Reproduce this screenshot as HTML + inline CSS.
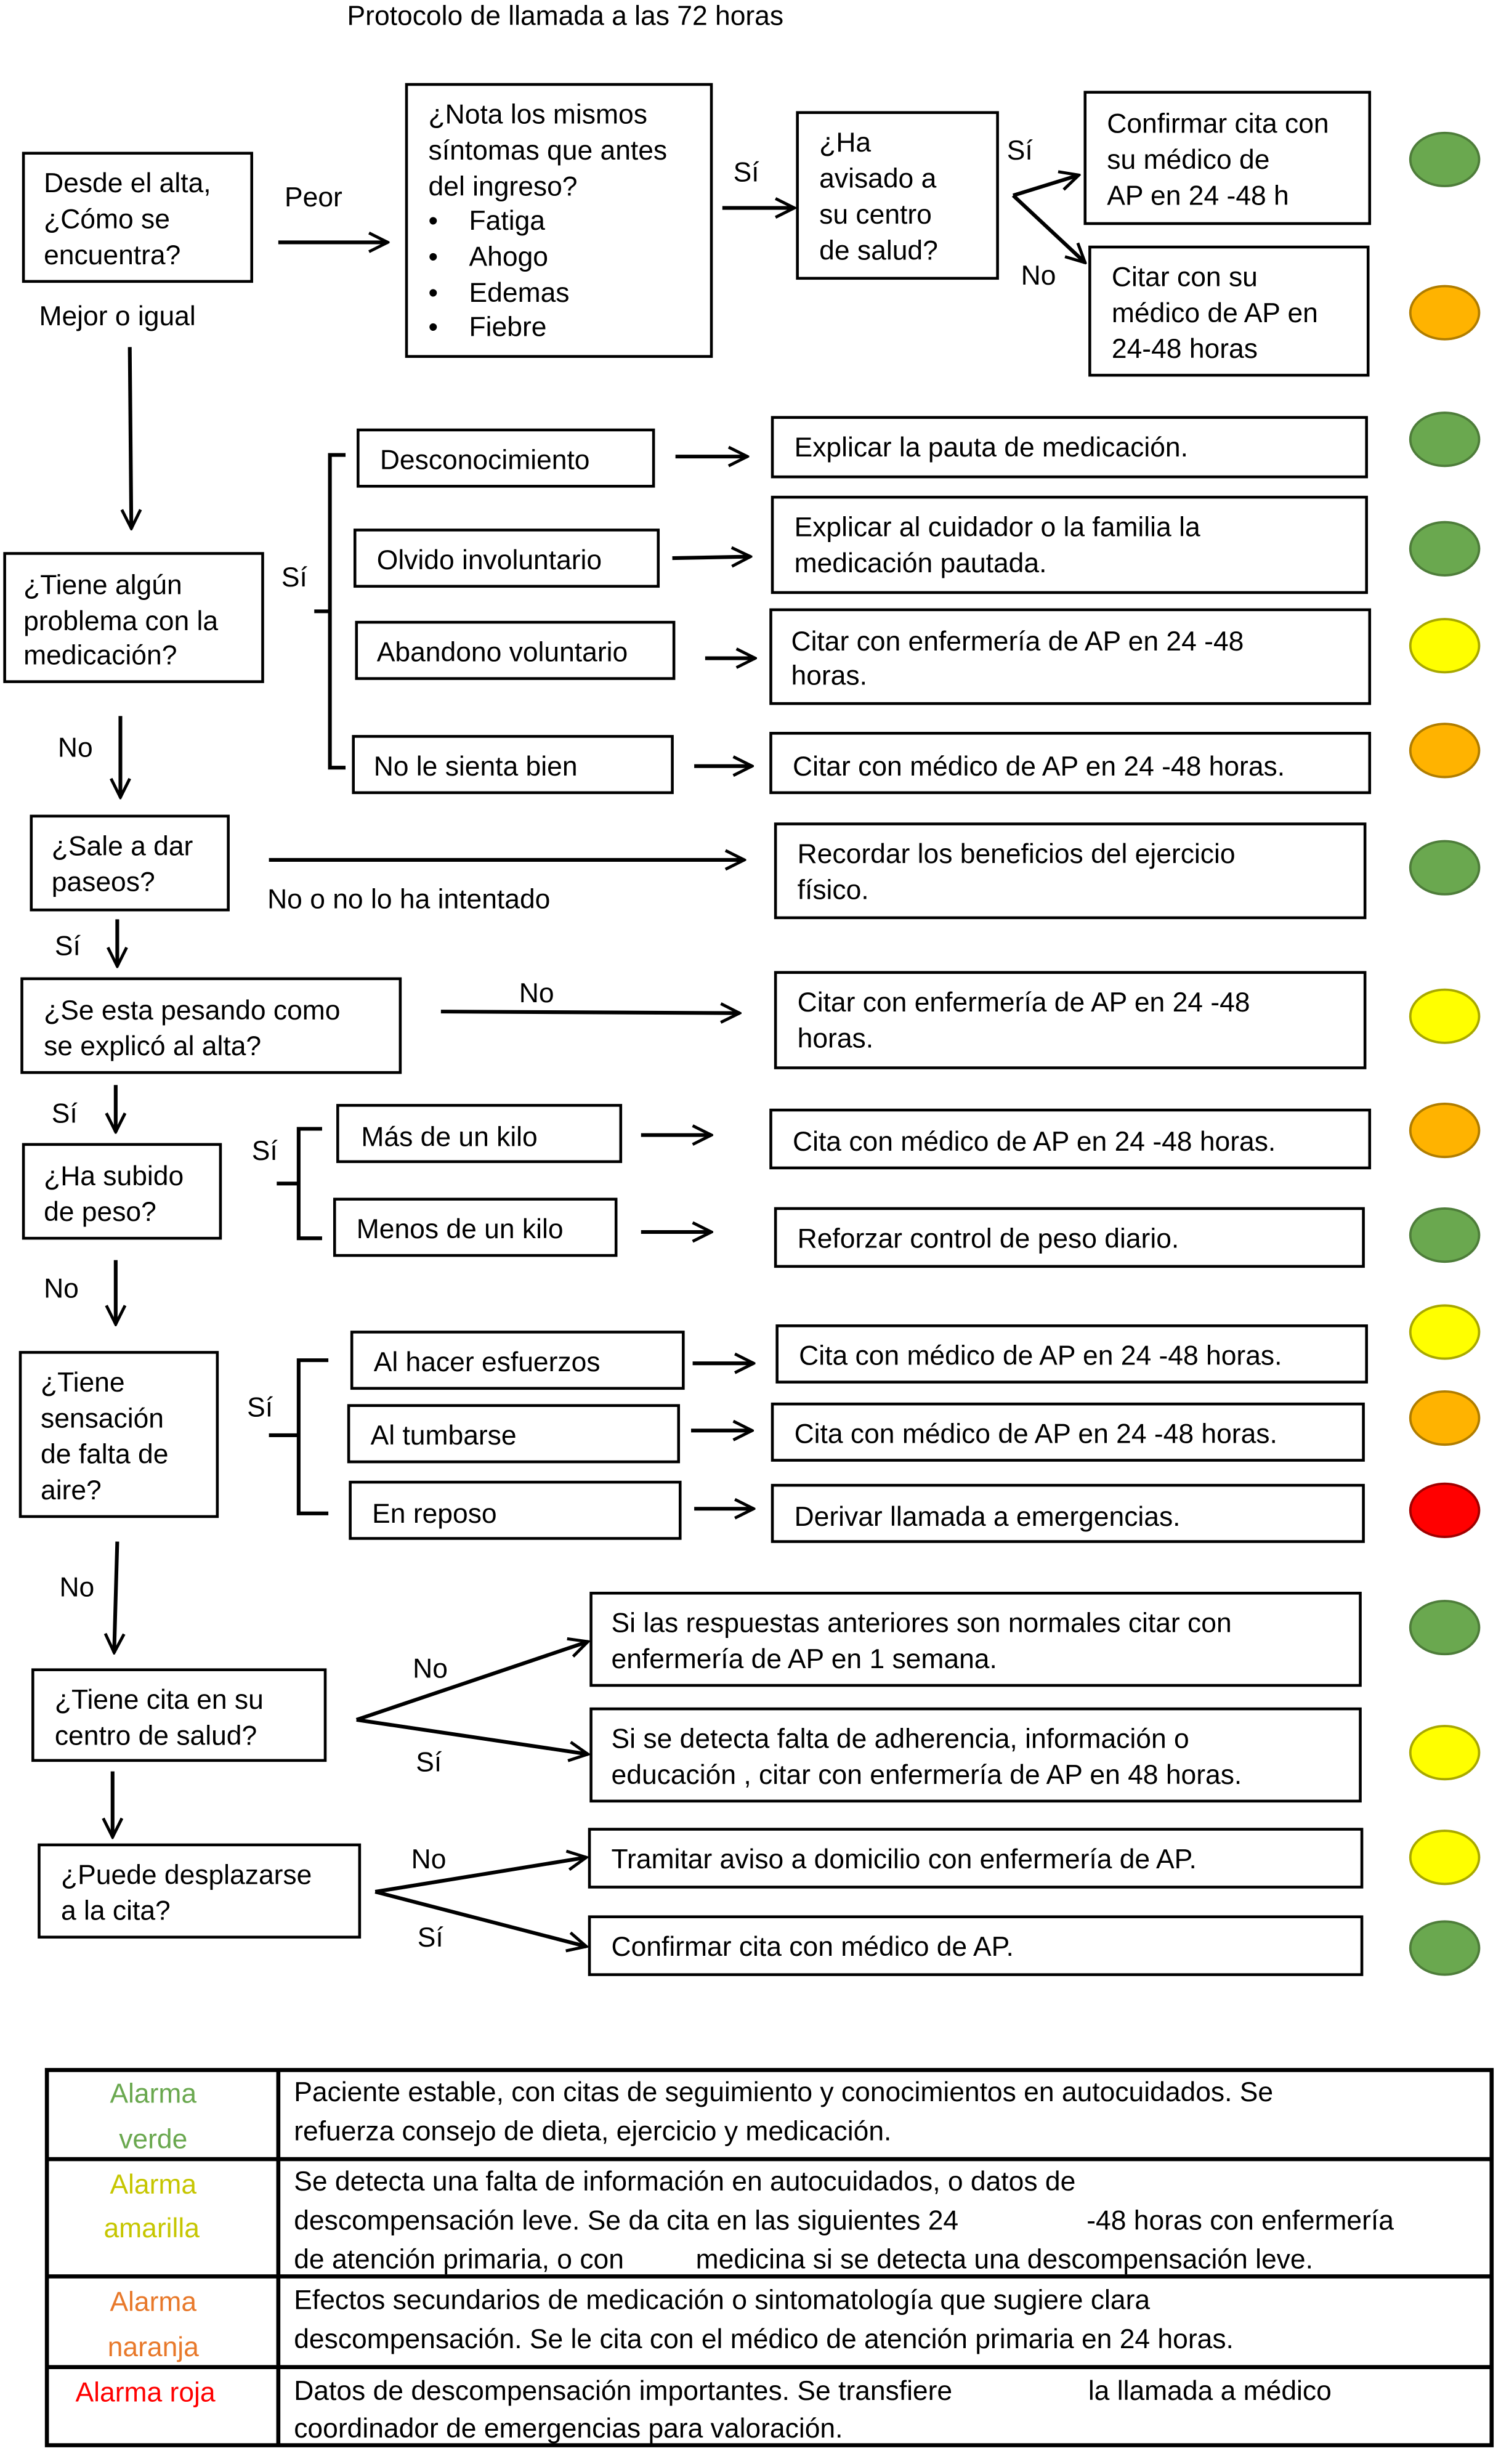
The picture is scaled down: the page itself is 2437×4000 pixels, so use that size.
<!DOCTYPE html>
<html><head><meta charset="utf-8"><style>
html,body{margin:0;padding:0;background:#fff;}
svg{display:block;}
text{font-family:"Liberation Sans",Arial,sans-serif;font-size:17.5px;fill:#000;}
.b{fill:none;stroke:#000;stroke-width:1.8;}
.a{fill:none;stroke:#000;stroke-width:2.4;}
</style></head><body>
<svg width="2437" height="4000" viewBox="0 0 960 1576" preserveAspectRatio="none" xmlns="http://www.w3.org/2000/svg">
<defs><marker id="m" viewBox="0 0 12 12" refX="11" refY="6" markerWidth="6" markerHeight="6" orient="auto" markerUnits="strokeWidth"><polyline points="1,1 11,6 1,11" fill="none" stroke="#000" stroke-width="1.6"/></marker></defs>
<rect width="960" height="1576" fill="#fff"/>
<text x="222" y="16">Protocolo de llamada a las 72 horas</text>

<rect class="b" x="15" y="98" width="146" height="82"/>
<text x="28" y="123">Desde el alta,</text><text x="28" y="146">¿Cómo se</text><text x="28" y="169">encuentra?</text>
<text x="182" y="132">Peor</text>
<line class="a" x1="178" y1="155" x2="248" y2="155" marker-end="url(#m)"/>
<text x="25" y="208">Mejor o igual</text>

<rect class="b" x="260" y="54" width="195" height="174"/>
<text x="274" y="79">¿Nota los mismos</text><text x="274" y="102">síntomas que antes</text><text x="274" y="125">del ingreso?</text>
<text x="274" y="147">•</text><text x="300" y="147">Fatiga</text>
<text x="274" y="170">•</text><text x="300" y="170">Ahogo</text>
<text x="274" y="193">•</text><text x="300" y="193">Edemas</text>
<text x="274" y="215">•</text><text x="300" y="215">Fiebre</text>
<text x="469" y="116">Sí</text>
<line class="a" x1="462" y1="133" x2="508" y2="133" marker-end="url(#m)"/>

<rect class="b" x="510" y="72" width="128" height="106"/>
<text x="524" y="97">¿Ha</text><text x="524" y="120">avisado a</text><text x="524" y="143">su centro</text><text x="524" y="166">de salud?</text>
<text x="644" y="102">Sí</text>
<line class="a" x1="648" y1="125" x2="690" y2="112" marker-end="url(#m)"/>
<line class="a" x1="648" y1="125" x2="694" y2="168" marker-end="url(#m)"/>
<text x="653" y="182">No</text>
<rect class="b" x="694" y="59" width="182" height="84"/>
<text x="708" y="85">Confirmar cita con</text><text x="708" y="108">su médico de</text><text x="708" y="131">AP en 24 -48 h</text>
<rect class="b" x="697" y="158" width="178" height="82"/>
<text x="711" y="183">Citar con su</text><text x="711" y="206">médico de AP en</text><text x="711" y="229">24-48 horas</text>

<line class="a" x1="83" y1="222" x2="84" y2="338" marker-end="url(#m)"/>
<rect class="b" x="3" y="354" width="165" height="82"/>
<text x="15" y="380">¿Tiene algún</text><text x="15" y="403">problema con la</text><text x="15" y="425">medicación?</text>
<text x="180" y="375">Sí</text>
<path class="a" d="M221,291 H211 V491 H221 M211,391 H201"/>
<rect class="b" x="229" y="275" width="189" height="36"/><text x="243" y="300">Desconocimiento</text>
<rect class="b" x="227" y="339" width="194" height="36"/><text x="241" y="364">Olvido involuntario</text>
<rect class="b" x="228" y="398" width="203" height="36"/><text x="241" y="423">Abandono voluntario</text>
<rect class="b" x="226" y="471" width="204" height="36"/><text x="239" y="496">No le sienta bien</text>
<line class="a" x1="432" y1="292" x2="478" y2="292" marker-end="url(#m)"/>
<line class="a" x1="430" y1="357" x2="480" y2="356" marker-end="url(#m)"/>
<line class="a" x1="451" y1="421" x2="483" y2="421" marker-end="url(#m)"/>
<line class="a" x1="444" y1="490" x2="481" y2="490" marker-end="url(#m)"/>
<rect class="b" x="494" y="267" width="380" height="38"/><text x="508" y="292">Explicar la pauta de medicación.</text>
<rect class="b" x="494" y="318" width="380" height="61"/><text x="508" y="343">Explicar al cuidador o la familia la</text><text x="508" y="366">medicación pautada.</text>
<rect class="b" x="493" y="390" width="383" height="60"/><text x="506" y="416">Citar con enfermería de AP en 24  -48</text><text x="506" y="438">horas.</text>
<rect class="b" x="493" y="469" width="383" height="38"/><text x="507" y="496">Citar con médico de AP en 24  -48 horas.</text>

<text x="37" y="484">No</text>
<line class="a" x1="77" y1="458" x2="77" y2="510" marker-end="url(#m)"/>
<rect class="b" x="20" y="522" width="126" height="60"/>
<text x="33" y="547">¿Sale a dar</text><text x="33" y="570">paseos?</text>
<line class="a" x1="172" y1="550" x2="476" y2="550" marker-end="url(#m)"/>
<text x="171" y="581">No o  no lo ha intentado</text>
<rect class="b" x="496" y="527" width="377" height="60"/><text x="510" y="552">Recordar los beneficios del ejercicio</text><text x="510" y="575">físico.</text>

<text x="35" y="611">Sí</text>
<line class="a" x1="75" y1="588" x2="75" y2="618" marker-end="url(#m)"/>
<rect class="b" x="14" y="626" width="242" height="60"/>
<text x="28" y="652">¿Se esta pesando como</text><text x="28" y="675">se explicó al alta?</text>
<text x="332" y="641">No</text>
<line class="a" x1="282" y1="647" x2="473" y2="648" marker-end="url(#m)"/>
<rect class="b" x="496" y="622" width="377" height="61"/><text x="510" y="647">Citar con enfermería de AP en 24  -48</text><text x="510" y="670">horas.</text>

<text x="33" y="718">Sí</text>
<line class="a" x1="74" y1="694" x2="74" y2="724" marker-end="url(#m)"/>
<rect class="b" x="15" y="732" width="126" height="60"/>
<text x="28" y="758">¿Ha subido</text><text x="28" y="781">de peso?</text>
<text x="161" y="742">Sí</text>
<path class="a" d="M206,722 H191 V792 H206 M191,757 H177"/>
<rect class="b" x="216" y="707" width="181" height="36"/><text x="231" y="733">Más de un kilo</text>
<rect class="b" x="214" y="767" width="180" height="36"/><text x="228" y="792">Menos de un kilo</text>
<line class="a" x1="410" y1="726" x2="455" y2="726" marker-end="url(#m)"/>
<line class="a" x1="410" y1="788" x2="455" y2="788" marker-end="url(#m)"/>
<rect class="b" x="493" y="710" width="383" height="37"/><text x="507" y="736">Cita con médico de AP en 24  -48 horas.</text>
<rect class="b" x="496" y="773" width="376" height="37"/><text x="510" y="798">Reforzar control de peso diario.</text>

<text x="28" y="830">No</text>
<line class="a" x1="74" y1="806" x2="74" y2="847" marker-end="url(#m)"/>
<rect class="b" x="13" y="865" width="126" height="105"/>
<text x="26" y="890">¿Tiene</text><text x="26" y="913">sensación</text><text x="26" y="936">de falta de</text><text x="26" y="959">aire?</text>
<text x="158" y="906">Sí</text>
<path class="a" d="M210,870 H191 V968 H210 M191,918 H172"/>
<rect class="b" x="225" y="852" width="212" height="36"/><text x="239" y="877">Al hacer esfuerzos</text>
<rect class="b" x="223" y="899" width="211" height="36"/><text x="237" y="924">Al tumbarse</text>
<rect class="b" x="224" y="948" width="211" height="36"/><text x="238" y="974">En reposo</text>
<line class="a" x1="443" y1="872" x2="482" y2="872" marker-end="url(#m)"/>
<line class="a" x1="442" y1="915" x2="481" y2="915" marker-end="url(#m)"/>
<line class="a" x1="444" y1="965" x2="482" y2="965" marker-end="url(#m)"/>
<rect class="b" x="497" y="848" width="377" height="36"/><text x="511" y="873">Cita con médico de AP en 24  -48 horas.</text>
<rect class="b" x="494" y="898" width="378" height="36"/><text x="508" y="923">Cita con médico de AP en 24  -48 horas.</text>
<rect class="b" x="494" y="950" width="378" height="36"/><text x="508" y="976">Derivar llamada a emergencias.</text>

<text x="38" y="1021">No</text>
<line class="a" x1="75" y1="986" x2="73" y2="1057" marker-end="url(#m)"/>
<rect class="b" x="21" y="1068" width="187" height="58"/>
<text x="35" y="1093">¿Tiene cita en su</text><text x="35" y="1116">centro de salud?</text>
<line class="a" x1="228" y1="1100" x2="376" y2="1050" marker-end="url(#m)"/>
<line class="a" x1="228" y1="1100" x2="376" y2="1122" marker-end="url(#m)"/>
<text x="264" y="1073">No</text><text x="266" y="1133">Sí</text>
<rect class="b" x="378" y="1019" width="492" height="59"/><text x="391" y="1044">Si las respuestas anteriores son normales citar con</text><text x="391" y="1067">enfermería de AP en 1 semana.</text>
<rect class="b" x="378" y="1093" width="492" height="59"/><text x="391" y="1118">Si se detecta falta de adherencia, información  o</text><text x="391" y="1141">educación , citar con enfermería de AP en 48 horas.</text>

<line class="a" x1="72" y1="1133" x2="72" y2="1175" marker-end="url(#m)"/>
<rect class="b" x="25" y="1180" width="205" height="59"/>
<text x="39" y="1205">¿Puede desplazarse</text><text x="39" y="1228">a la cita?</text>
<line class="a" x1="240" y1="1210" x2="375" y2="1188" marker-end="url(#m)"/>
<line class="a" x1="240" y1="1210" x2="375" y2="1245" marker-end="url(#m)"/>
<text x="263" y="1195">No</text><text x="267" y="1245">Sí</text>
<rect class="b" x="377" y="1170" width="494" height="37"/><text x="391" y="1195">Tramitar aviso a domicilio con enfermería de AP.</text>
<rect class="b" x="377" y="1226" width="494" height="37"/><text x="391" y="1251">Confirmar cita con médico de AP.</text>

<g stroke-width="1.5">
<ellipse cx="924" cy="102" rx="22" ry="17" fill="#6aa84f" stroke="#4e7d3a"/>
<ellipse cx="924" cy="200" rx="22" ry="17" fill="#ffb300" stroke="#b07d00"/>
<ellipse cx="924" cy="281" rx="22" ry="17" fill="#6aa84f" stroke="#4e7d3a"/>
<ellipse cx="924" cy="351" rx="22" ry="17" fill="#6aa84f" stroke="#4e7d3a"/>
<ellipse cx="924" cy="413" rx="22" ry="17" fill="#ffff00" stroke="#a8a800"/>
<ellipse cx="924" cy="480" rx="22" ry="17" fill="#ffb300" stroke="#b07d00"/>
<ellipse cx="924" cy="555" rx="22" ry="17" fill="#6aa84f" stroke="#4e7d3a"/>
<ellipse cx="924" cy="650" rx="22" ry="17" fill="#ffff00" stroke="#a8a800"/>
<ellipse cx="924" cy="723" rx="22" ry="17" fill="#ffb300" stroke="#b07d00"/>
<ellipse cx="924" cy="790" rx="22" ry="17" fill="#6aa84f" stroke="#4e7d3a"/>
<ellipse cx="924" cy="852" rx="22" ry="17" fill="#ffff00" stroke="#a8a800"/>
<ellipse cx="924" cy="907" rx="22" ry="17" fill="#ffb300" stroke="#b07d00"/>
<ellipse cx="924" cy="966" rx="22" ry="17" fill="#ff0000" stroke="#a00000"/>
<ellipse cx="924" cy="1041" rx="22" ry="17" fill="#6aa84f" stroke="#4e7d3a"/>
<ellipse cx="924" cy="1121" rx="22" ry="17" fill="#ffff00" stroke="#a8a800"/>
<ellipse cx="924" cy="1188" rx="22" ry="17" fill="#ffff00" stroke="#a8a800"/>
<ellipse cx="924" cy="1246" rx="22" ry="17" fill="#6aa84f" stroke="#4e7d3a"/>
</g>

<g stroke="#000" stroke-width="2.6" fill="none">
<rect x="30" y="1324" width="924" height="240"/>
<line x1="30" y1="1381" x2="954" y2="1381"/>
<line x1="30" y1="1456" x2="954" y2="1456"/>
<line x1="30" y1="1514" x2="954" y2="1514"/>
<line x1="178" y1="1324" x2="178" y2="1564"/>
</g>
<text x="98" y="1345" text-anchor="middle" style="fill:#6aa84f">Alarma</text>
<text x="98" y="1374" text-anchor="middle" style="fill:#6aa84f">verde</text>
<text x="98" y="1403" text-anchor="middle" style="fill:#c6c600">Alarma</text>
<text x="97" y="1431" text-anchor="middle" style="fill:#c6c600">amarilla</text>
<text x="98" y="1478" text-anchor="middle" style="fill:#e8792b">Alarma</text>
<text x="98" y="1507" text-anchor="middle" style="fill:#e8792b">naranja</text>
<text x="93" y="1536" text-anchor="middle" style="fill:#ff0000">Alarma roja</text>
<text x="188" y="1344">Paciente estable, con citas de seguimiento y conocimientos en autocuidados. Se</text>
<text x="188" y="1369">refuerza consejo de dieta, ejercicio y medicación.</text>
<text x="188" y="1401">Se detecta una falta de información en autocuidados, o datos de</text>
<text x="188" y="1426">descompensación leve. Se da cita en las siguientes 24</text>
<text x="695" y="1426">-48 horas con enfermería</text>
<text x="188" y="1451">de atención primaria, o con</text>
<text x="445" y="1451">medicina si se detecta una descompensación leve.</text>
<text x="188" y="1477">Efectos secundarios de medicación o sintomatología que sugiere clara</text>
<text x="188" y="1502">descompensación. Se le cita con el médico de atención primaria en 24 horas.</text>
<text x="188" y="1535">Datos de descompensación importantes. Se transfiere</text>
<text x="696" y="1535">la llamada a médico</text>
<text x="188" y="1559">coordinador de emergencias para valoración.</text>
</svg>
</body></html>
